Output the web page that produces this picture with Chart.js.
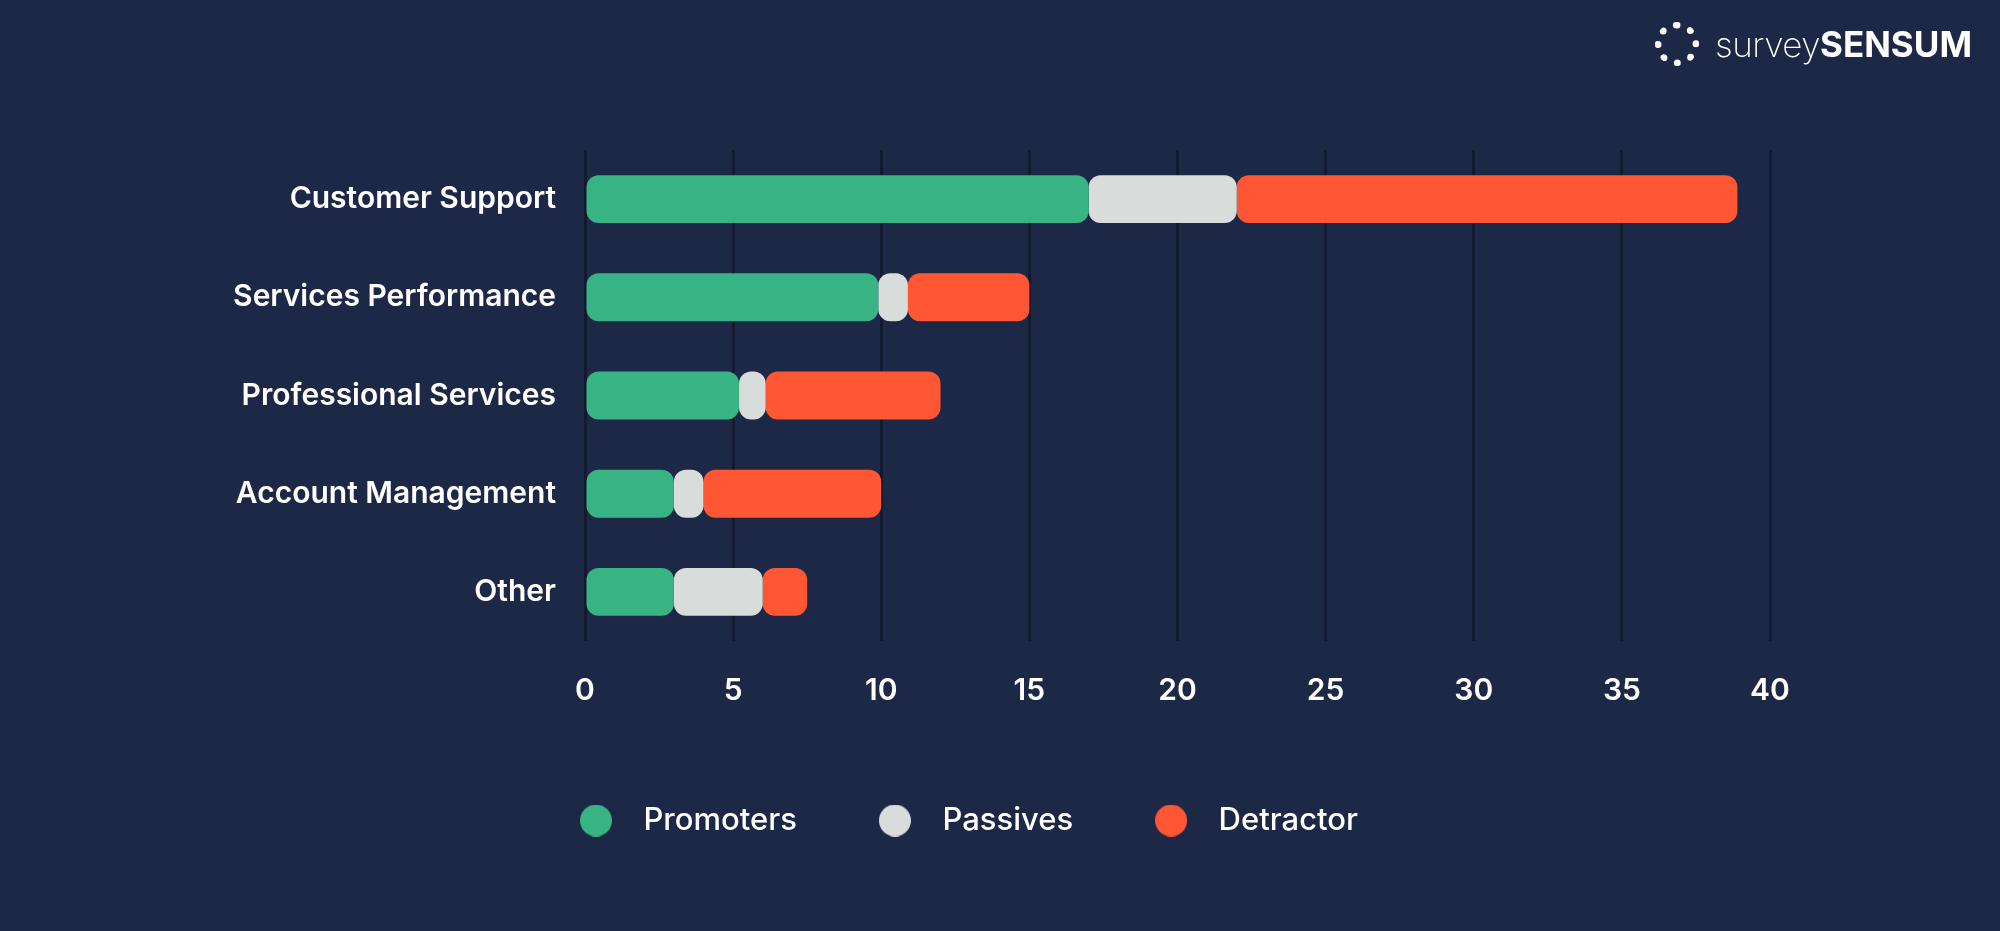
<!DOCTYPE html>
<html>
<head>
<meta charset="utf-8">
<script src="https://cdn.jsdelivr.net/npm/chart.js@4.4.1/dist/chart.umd.min.js"></script>
<style>
  html, body { margin: 0; padding: 0; background: #1c2846; }
  #wrap { position: relative; width: 2000px; height: 931px; }
  #logo { position: absolute; left: 1655px; top: 18px; height: 52px; display: flex; align-items: center; color: #fff; font-family: Inter, sans-serif; font-size: 35px; }
  #logo .ring { width: 30px; height: 30px; border: 7px dotted #fff; border-radius: 50%; margin-right: 16px; position: relative; }
  #logo .light { font-weight: 200; letter-spacing: -0.5px; }
  #logo .bold { font-weight: 700; }
</style>
</head>
<body>
<div id="wrap">
  <canvas id="npsChart" width="2000" height="931"></canvas>
  <div id="logo"><span class="ring"></span><span class="light">survey</span><span class="bold">SENSUM</span></div>
</div>
<script>
const categories = ["Customer Support", "Services Performance", "Professional Services", "Account Management", "Other"];
const promoters = [17, 9.9, 5.2, 3, 3];
const passives = [5, 1, 0.9, 1, 3];
const detractors = [16.9, 4.1, 5.9, 6, 1.5];
const xTicks = [0, 5, 10, 15, 20, 25, 30, 35, 40];

const colGreen = "#38b384";
const colGrey = "#d8dcda";
const colRed = "#ff5733";

// petit cercle pour la légende
function dot(color) {
  const c = document.createElement("canvas");
  c.width = 32;
  c.height = 32;
  const g = c.getContext("2d");
  g.fillStyle = color;
  g.beginPath();
  g.arc(16, 16, 16, 0, Math.PI * 2);
  g.fill();
  return c;
}

const radius = { topLeft: 12, topRight: 12, bottomLeft: 12, bottomRight: 12 };
const font = "Inter, 'Open Sans', sans-serif";

var ctx = document.getElementById("npsChart").getContext("2d");
var npsChart = new Chart(ctx, {
  type: "bar",
  data: {
    labels: categories,
    datasets: [
      { label: "Promoters", data: promoters, backgroundColor: colGreen, legendDot: dot(colGreen) },
      { label: "Passives", data: passives, backgroundColor: colGrey, legendDot: dot(colGrey) },
      { label: "Detractor", data: detractors, backgroundColor: colRed, legendDot: dot(colRed) },
    ],
  },
  options: {
    indexAxis: "y",
    responsive: false,
    animation: false,
    layout: { padding: { top: 150, left: 152, right: 230, bottom: 85 } },
    datasets: {
      bar: {
        borderRadius: radius,
        borderSkipped: false,
        categoryPercentage: 0.8,
        barPercentage: 0.61,
      },
    },
    scales: {
      x: {
        stacked: true,
        min: 0,
        max: 40,
        afterBuildTicks: function (scale) {
          scale.ticks = xTicks.map((v) => ({ value: v }));
        },
        afterFit: function (scale) {
          scale.height = 98;
        },
        grid: { color: "#111a2e", lineWidth: 3, drawTicks: false },
        border: { display: false },
        ticks: { color: "#ffffff", padding: 32, font: { family: font, size: 30, weight: 600 } },
      },
      y: {
        stacked: true,
        afterFit: function (scale) {
          scale.width = 585 - 152;
        },
        grid: { display: false, drawTicks: false },
        border: { display: false },
        ticks: { color: "#ffffff", padding: 29, font: { family: font, size: 30, weight: 600 } },
      },
    },
    plugins: {
      tooltip: { enabled: false },
      legend: {
        position: "bottom",
        labels: {
          usePointStyle: true,
          pointStyleWidth: 64,
          boxHeight: 28,
          padding: 66,
          color: "#ffffff",
          font: { family: font, size: 31, weight: 500 },
          generateLabels: function (chart) {
            const items = Chart.defaults.plugins.legend.labels.generateLabels(chart);
            items.forEach((it) => {
              it.pointStyle = chart.data.datasets[it.datasetIndex].legendDot;
            });
            return items;
          },
        },
      },
    },
  },
});
</script>
</body>
</html>
